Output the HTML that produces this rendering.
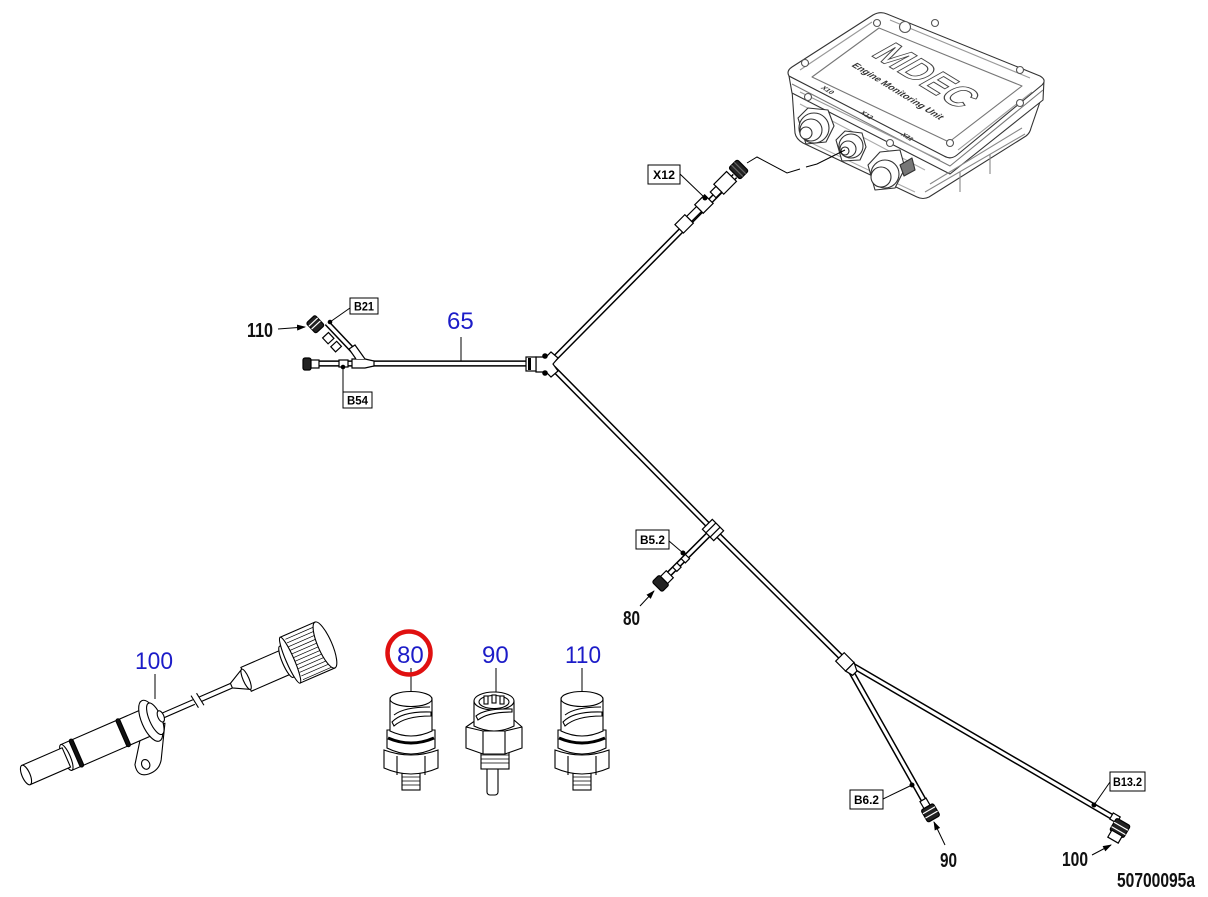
<!DOCTYPE html>
<html><head><meta charset="utf-8">
<style>
html,body{margin:0;padding:0;background:#fff;}
svg{display:block;}
.lb{font-family:"Liberation Sans",sans-serif;font-weight:bold;font-size:12px;}
.bl{font-family:"Liberation Sans",sans-serif;font-size:24px;fill:#1c1cc8;}
.bk{font-family:"Liberation Sans",sans-serif;font-weight:bold;font-size:20px;fill:#111;}
.md{font-family:"Liberation Sans",sans-serif;font-weight:bold;}
</style></head><body>
<svg width="1208" height="897" viewBox="0 0 1208 897" xmlns="http://www.w3.org/2000/svg">
<defs>
<marker id="ah" markerWidth="9" markerHeight="6" refX="8" refY="3" orient="auto" markerUnits="userSpaceOnUse"><path d="M0,0 L9,3 L0,6 Z" fill="#000"/></marker>
</defs>
<rect width="1208" height="897" fill="#fff"/>

<!-- ================= MDEC ================= -->
<g stroke="#333" stroke-width="1.1" fill="#fff" stroke-linejoin="round">
  <path d="M792,90 L795,133 Q796,139 803,143 L917,197 Q923,200 929,197 L1026,136 Q1030,133 1031,128 L1042,96 Z"/>
  <path d="M789,76 L792,93 L950,174 L1043,100 L1044,80 L950,158 Z"/>
  <path d="M792,84 L950,166 L1043,90" fill="none" stroke="#777"/>
  <path d="M789,76 Q786,71 792,67 L873,15 Q880,11 887,14 L1040,76 Q1047,80 1042,85 L957,155 Q951,160 944,156 Z"/>
  <path d="M812,77 L879,28 L1022,86 L949,142 Z" stroke="#777"/>
  <path d="M800,70 L872,22" stroke="#999"/>
  <path d="M890,20 L1030,78" stroke="#999"/>
  <path d="M1032,92 L958,150" stroke="#999"/>
  <path d="M800,92 L940,160" stroke="#999"/>
  <!-- side details -->
  <path d="M930,184 L1022,128 M925,192 L1025,134 M960,172 L960,192 M990,154 L990,174" stroke="#888"/>
  <path d="M800,104 L925,170 M805,140 L915,192" stroke="#aaa"/>
  <!-- bolts -->
  <g stroke="#555">
    <circle cx="877" cy="23" r="3.5"/><circle cx="935" cy="23" r="3.5"/>
    <circle cx="805" cy="63" r="3.5"/><circle cx="1020" cy="70" r="3.5"/>
    <circle cx="808" cy="97" r="3.5"/><circle cx="1020" cy="103" r="3.5"/>
    <circle cx="890" cy="143" r="3.5"/><circle cx="950" cy="143" r="3.5"/>
    <circle cx="905" cy="27" r="5.5"/>
  </g>
  <!-- connectors -->
  <path d="M798,118 L808,108 L828,110 L834,126 L826,142 L806,144 Z"/>
  <circle cx="814" cy="128" r="15"/><circle cx="811" cy="130" r="11"/><circle cx="806" cy="133" r="6" />
  <path d="M836,140 L845,131 L862,133 L866,147 L860,160 L842,161 Z"/>
  <circle cx="851" cy="146" r="12"/><circle cx="848" cy="149" r="8"/><circle cx="845" cy="151" r="4" stroke="#222"/>
  <path d="M868,165 L880,152 L900,150 L905,168 L895,188 L875,190 Z"/>
  <circle cx="885" cy="174" r="14"/><circle cx="881" cy="177" r="10"/>
  <path d="M900,165 L912,158 L915,170 L904,176 Z" fill="#777"/>
</g>
<g transform="matrix(0.85,0.52,-0.87,0.49,870,55)" fill="#fff" stroke="#444" stroke-width="1.1">
  <text class="md" x="0" y="0" font-size="40" textLength="105" lengthAdjust="spacingAndGlyphs">MDEC</text>
</g>
<g transform="matrix(0.85,0.52,-0.87,0.49,870,55)" fill="#333">
  <text class="md" x="0" y="22" font-size="10" textLength="104" lengthAdjust="spacingAndGlyphs">Engine Monitoring Unit</text>
  <text class="md" x="5" y="62" font-size="7">X10</text>
  <text class="md" x="52" y="63" font-size="7">X12</text>
  <text class="md" x="97" y="60" font-size="7">X11</text>
</g>
<!-- dashed leader from X12 -->
<path d="M747,163 L757,157 L787,173 L800,169 M806,167 L817,164 L845,150" fill="none" stroke="#000" stroke-width="1"/>

<!-- ================= HARNESS TUBES ================= -->
<g fill="none" stroke-linecap="butt" stroke-linejoin="round">
  <path d="M316,363.5 L530,363.5 M553,360 L735,176 M553,368 L713,530 L848,664 M850,664 L1114,818 M848,666 L927,806 M711,532 L662,581 M363,361 L327,323" stroke="#000" stroke-width="6.2"/>
  <path d="M316,363.5 L530,363.5 M553,360 L735,176 M553,368 L713,530 L848,664 M850,664 L1114,818 M848,666 L927,806 M711,532 L662,581 M363,361 L327,323" stroke="#fff" stroke-width="3.2"/>
</g>

<g stroke="#000" stroke-width="1.2" fill="#fff">
  <!-- main Y junction -->
  <path d="M536,357 L546,357 L551,352 L558,358 L553,364 L558,371 L551,377 L546,372 L536,372 Z"/>
  <circle cx="545" cy="356" r="2.2" fill="#000"/><circle cx="545" cy="373" r="2.2" fill="#000"/>
  <!-- ring connector on trunk -->
  <rect x="526" y="357" width="10" height="14"/>
  <rect x="528" y="358" width="3" height="12" fill="#000" stroke="none"/>
  <!-- left end connector -->
  <rect x="303" y="358" width="8" height="12" rx="2" fill="#222"/>
  <rect x="311" y="360" width="8" height="8"/>
  <!-- B54 block -->
  <rect x="339" y="360" width="9" height="7"/>
  <!-- B21 junction -->
  <path d="M352,359 L365,359 L374,361 L374,366 L365,368 L352,368 Z"/>
  <path d="M356,359 L349,349 L355,345 L365,359"/>
  <!-- B21 branch segment + connector -->
  <g transform="translate(316,325) rotate(47)">
    <rect x="-8" y="-6" width="14" height="12" rx="2" fill="#222"/>
    <line x1="-4" y1="-6" x2="-4" y2="6" stroke="#fff"/>
    <line x1="0" y1="-6" x2="0" y2="6" stroke="#fff"/>
    <rect x="14" y="-4" width="8" height="8"/>
    <rect x="26" y="-4" width="7" height="8"/>
  </g>
  <!-- X12 connector chain -->
  <g transform="translate(740,168) rotate(135)">
    <rect x="-4" y="-8" width="12" height="16" rx="2" fill="#222"/>
    <line x1="0" y1="-8" x2="0" y2="8" stroke="#666"/>
    <line x1="4" y1="-8" x2="4" y2="8" stroke="#666"/>
    <rect x="12" y="-7" width="18" height="14"/>
    <rect x="30" y="-4" width="8" height="8"/>
    <rect x="44" y="-6" width="14" height="12"/>
    <rect x="58" y="-3.5" width="14" height="7"/>
    <rect x="72" y="-6" width="14" height="12"/>
  </g>
  <!-- B5.2 junction -->
  <g transform="translate(713,530) rotate(45)">
    <rect x="-8" y="-7" width="16" height="14"/>
    <line x1="-3" y1="-7" x2="-3" y2="7"/>
    <line x1="3" y1="-7" x2="3" y2="7"/>
  </g>
  <g transform="translate(662,582) rotate(-45)">
    <rect x="-7" y="-7" width="10" height="14" rx="2" fill="#222"/>
    <rect x="3" y="-5" width="8" height="10"/>
    <rect x="18" y="-3" width="6" height="6"/>
    <rect x="30" y="-3" width="6" height="6"/>
  </g>
  <!-- lower Y junction -->
  <g transform="translate(847,664) rotate(45)">
    <rect x="-10" y="-6" width="14" height="12"/>
    <path d="M4,-6 L12,-2 L12,4 L4,6 Z"/>
  </g>
  <!-- B6.2 end connector -->
  <g transform="translate(930,812) rotate(60)">
    <rect x="-14" y="-3.5" width="8" height="7"/>
    <rect x="-6" y="-7" width="14" height="14" rx="2" fill="#222"/>
    <line x1="-2" y1="-7" x2="-2" y2="7" stroke="#fff"/>
    <line x1="3" y1="-7" x2="3" y2="7" stroke="#fff"/>
  </g>
  <!-- B13.2 elbow connector -->
  <g transform="translate(1115,818) rotate(30)">
    <rect x="-4" y="-3.5" width="8" height="7"/>
  </g>
  <g transform="translate(1120,828) rotate(-60)">
    <rect x="-7" y="-8" width="14" height="16" rx="2" fill="#222"/>
    <line x1="-3" y1="-8" x2="-3" y2="8" stroke="#fff"/>
    <line x1="2" y1="-8" x2="2" y2="8" stroke="#fff"/>
    <rect x="-14" y="-6" width="8" height="12"/>
  </g>
</g>

<!-- ================= LEADERS / DOTS ================= -->
<g stroke="#000" stroke-width="1" fill="none">
  <path d="M350,308 L330,322"/>
  <path d="M343,392 L343,367"/>
  <path d="M680,174 L705,198"/>
  <path d="M669,541 L683,553"/>
  <path d="M883,799 L912,785"/>
  <path d="M1110,782 L1094,805"/>
  <path d="M461,337 L461,361"/>
  <path d="M278,329 L305,327" marker-end="url(#ah)"/>
  <path d="M640,606 L654,591" marker-end="url(#ah)"/>
  <path d="M945,845 L934,822" marker-end="url(#ah)"/>
  <path d="M1092,855 L1111,845" marker-end="url(#ah)"/>
  <path d="M411,668 L411,692"/>
  <path d="M496,668 L496,692"/>
  <path d="M582,668 L582,692"/>
  <path d="M155,674 L155,699"/>
</g>
<g fill="#000">
  <circle cx="330" cy="322" r="2.3"/>
  <circle cx="343" cy="367" r="2.3"/>
  <circle cx="705" cy="198" r="2.5"/>
  <circle cx="683" cy="553" r="2.5"/>
  <circle cx="912" cy="785" r="2.5"/>
  <circle cx="1094" cy="805" r="2.5"/>
</g>

<!-- ================= BOX LABELS ================= -->
<g fill="#fff" stroke="#000" stroke-width="1">
  <rect x="350" y="298" width="28" height="16"/>
  <rect x="343" y="392" width="29" height="16"/>
  <rect x="648" y="165" width="32" height="19"/>
  <rect x="636" y="530" width="33" height="19"/>
  <rect x="850" y="790" width="33" height="19"/>
  <rect x="1110" y="772" width="35" height="19"/>
</g>
<g class="lb" text-anchor="middle">
  <text x="364" y="310.5" textLength="20" lengthAdjust="spacingAndGlyphs">B21</text>
  <text x="357.5" y="404.5" textLength="21" lengthAdjust="spacingAndGlyphs">B54</text>
  <text x="664" y="179" textLength="22" lengthAdjust="spacingAndGlyphs">X12</text>
  <text x="652.5" y="544" textLength="25" lengthAdjust="spacingAndGlyphs">B5.2</text>
  <text x="866.5" y="804" textLength="25" lengthAdjust="spacingAndGlyphs">B6.2</text>
  <text x="1127.5" y="786" textLength="29" lengthAdjust="spacingAndGlyphs">B13.2</text>
</g>

<!-- ================= BLACK NUMBER LABELS ================= -->
<text class="bk" x="247" y="337" textLength="26" lengthAdjust="spacingAndGlyphs">110</text>
<text class="bk" x="623" y="625" textLength="17" lengthAdjust="spacingAndGlyphs">80</text>
<text class="bk" x="940" y="867" textLength="17" lengthAdjust="spacingAndGlyphs">90</text>
<text class="bk" x="1062" y="866" textLength="26" lengthAdjust="spacingAndGlyphs">100</text>
<text class="bk" x="1117" y="887" textLength="78" lengthAdjust="spacingAndGlyphs">50700095a</text>

<!-- ================= BLUE LABELS ================= -->
<text class="bl" x="447" y="329">65</text>
<text class="bl" x="135" y="669" textLength="38" lengthAdjust="spacingAndGlyphs">100</text>
<text class="bl" x="397" y="663">80</text>
<text class="bl" x="482" y="663">90</text>
<text class="bl" x="565" y="663" textLength="36" lengthAdjust="spacingAndGlyphs">110</text>
<circle cx="409" cy="653" r="21.5" fill="none" stroke="#e01010" stroke-width="4.5"/>

<!-- ================= SENSOR 80 / 110 ================= -->
<g id="ps" stroke="#000" stroke-width="1.1" fill="#fff">
  <rect x="402" y="768" width="18" height="22"/>
  <path d="M402,773 L420,773 M402,777 L420,777 M402,781 L420,781 M402,785 L420,785" stroke-width="0.8"/>
  <path d="M384,750 L384,768 Q411,780 438,768 L438,750 Q411,760 384,750 Z"/>
  <path d="M397,756 L397,775 M425,756 L425,775"/>
  <path d="M387,730 L387,748 Q411,760 435,748 L435,730 Z"/>
  <path d="M388,738 Q411,748 434,738" stroke-width="3"/>
  <path d="M390,699 L390,731 Q411,741 432,731 L432,699 Z"/>
  <ellipse cx="411" cy="699" rx="21" ry="7.5"/>
  <path d="M392,722 Q402,711 431,712 L431,716 Q405,716 394,726 Z" fill="#fff"/>
  <path d="M394,715 Q404,707 430,707" fill="none"/>
</g>
<use href="#ps" x="171" y="0"/>

<!-- ================= SENSOR 90 ================= -->
<g stroke="#000" stroke-width="1.1" fill="#fff">
  <rect x="487" y="766" width="11" height="29" rx="3"/>
  <rect x="481" y="751" width="28" height="18"/>
  <path d="M481,755 L509,755 M481,759 L509,759 M481,763 L509,763" stroke-width="0.8"/>
  <path d="M466,727 L476,720 L514,720 L522,727 L522,748 L505,754 L483,754 L466,748 Z"/>
  <path d="M483,731 L483,754 M505,731 L505,754 M466,727 L483,731 L505,731 L522,727"/>
  <path d="M474,701 L474,726 Q494,736 514,726 L514,701 Z"/>
  <ellipse cx="494" cy="701" rx="20" ry="9"/>
  <ellipse cx="494" cy="702" rx="15" ry="6.5"/>
  <rect x="484" y="696" width="4" height="8"/>
  <rect x="492" y="695" width="4" height="8"/>
  <rect x="500" y="696" width="4" height="8"/>
  <path d="M476,716 Q485,708 512,709 L512,712 Q488,712 478,720 Z"/>
</g>

<!-- ================= SPEED SENSOR 100 ================= -->
<g transform="translate(26,775) rotate(-23.5)" stroke="#000" stroke-width="1.1" fill="#fff">
  <rect x="140" y="-2.5" width="86" height="5"/>
  <rect x="183" y="-7" width="7" height="14" fill="#fff" stroke="none"/>
  <path d="M183,-7 L185,7 M189,-7 L191,7" fill="none"/>
  <path d="M128,0 L104,34 Q101,47 113,48 Q124,49 130,40 L148,8 Z"/>
  <ellipse cx="114" cy="38" rx="4" ry="5"/>
  <rect x="44" y="-14" width="94" height="28"/>
  <ellipse cx="44" cy="0" rx="4" ry="14"/>
  <rect x="0" y="-10.5" width="44" height="21"/>
  <ellipse cx="0" cy="0" rx="4" ry="10.5"/>
  <rect x="53" y="-15" width="4" height="30" rx="2" fill="#111"/>
  <rect x="104" y="-15" width="4" height="30" rx="2" fill="#111"/>
  <ellipse cx="136" cy="0" rx="9" ry="22"/>
  <ellipse cx="141" cy="0" rx="6" ry="17"/>
  <ellipse cx="147" cy="0" rx="3" ry="6"/>
  <path d="M224,-2.5 L240,-11 L240,11 L224,2.5 Z"/>
  <rect x="240" y="-13" width="44" height="26"/>
  <ellipse cx="240" cy="0" rx="3" ry="11"/>
  <ellipse cx="284" cy="0" rx="4" ry="17"/>
  <rect x="288" y="-25" width="38" height="50"/>
  <ellipse cx="288" cy="0" rx="4" ry="25"/>
  <path d="M292,-21 L326,-21 M292,-17 L326,-17 M292,-13 L326,-13 M292,-9 L326,-9 M292,-5 L326,-5 M292,-1 L326,-1 M292,3 L326,3 M292,7 L326,7 M292,11 L326,11 M292,15 L326,15 M292,19 L326,19 M292,23 L326,23" stroke-width="0.7"/>
  <ellipse cx="326" cy="0" rx="7" ry="25"/>
</g>

</svg>
</body></html>
